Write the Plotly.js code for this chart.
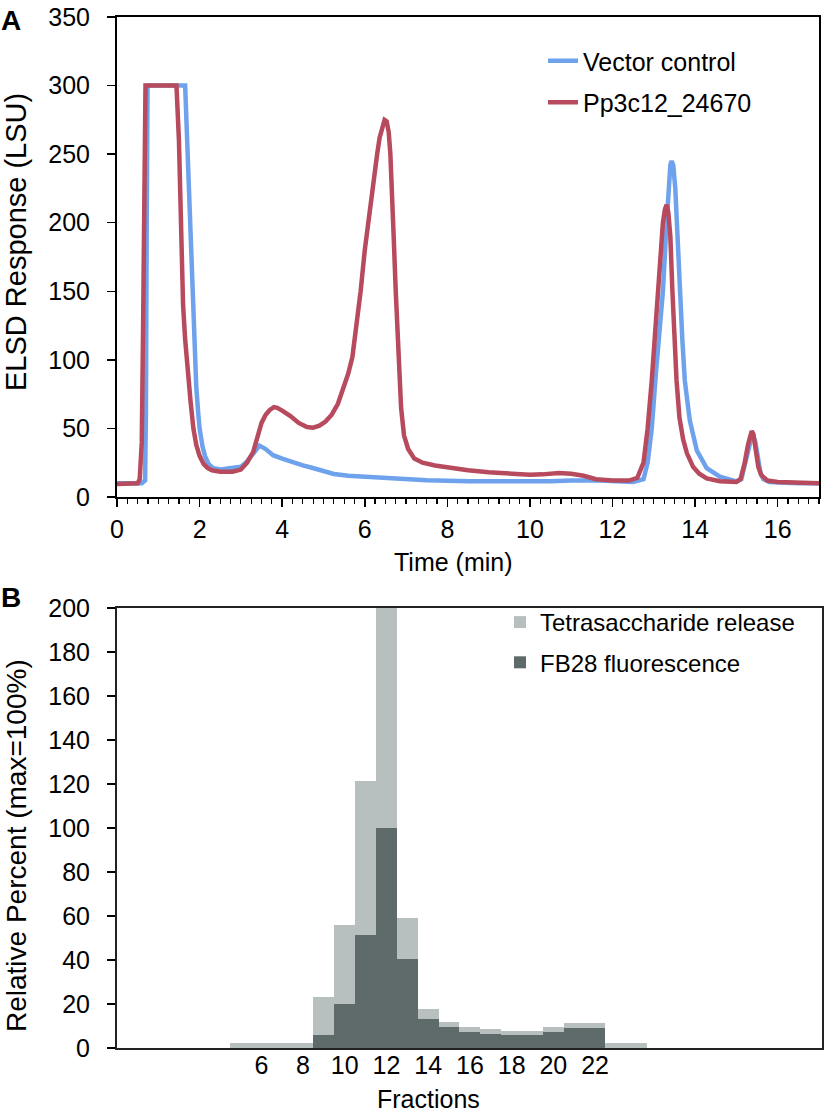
<!DOCTYPE html>
<html>
<head>
<meta charset="utf-8">
<script src="https://cdn.plot.ly/plotly-3.0.1.min.js"></script>
<style>
html,body{margin:0;padding:0;background:#fff;}
#chart{width:826px;height:1113px;}
</style>
</head>
<body>
<div id="chart"></div>
<script>
// Panel A: ELSD chromatograms (time in min, response in LSU)
const vectorTime = [0,0.6,0.68,0.7,0.72,0.74,1.65,1.7,1.76,1.82,1.87,1.92,1.97,2.0,2.07,2.13,2.22,2.33,2.5,2.75,3.0,3.15,3.3,3.45,3.6,3.78,4.0,4.2,4.5,4.7,5.0,5.25,5.6,6.05,6.5,6.85,7.5,8.5,9.5,10.5,11.0,11.7,12.5,12.75,12.85,12.95,13.05,13.15,13.22,13.3,13.36,13.4,13.43,13.47,13.52,13.57,13.63,13.69,13.75,13.87,14.04,14.28,14.6,15.0,15.12,15.22,15.32,15.37,15.41,15.46,15.52,15.58,15.65,15.8,16.5,17.0];
const vectorResp = [10,10,12,60,200,300,300,260,190,150,110,80,60,50,37,30,24,21,20,21,22,26,32,37.5,35,30.5,28,25.8,23,21.5,18.5,16.8,15.5,14.8,13.5,12.9,12.2,11.5,11.2,11.5,12,12,11,13,25,50,90,125,150,195,230,242,245,242,225,190,158,115,85,56,34,21,14.8,11.4,13,24,38,44,45,40,28,18,13,11,10,10];

const mutantTime = [0,0.3,0.5,0.55,0.6,0.63,0.66,0.69,1.0,1.44,1.5,1.55,1.6,1.65,1.7,1.78,1.85,1.92,2.0,2.1,2.2,2.3,2.5,2.8,3.0,3.15,3.3,3.4,3.5,3.6,3.7,3.8,3.88,4.0,4.2,4.4,4.6,4.75,4.9,5.05,5.2,5.35,5.5,5.6,5.7,5.8,5.9,6.0,6.1,6.2,6.3,6.36,6.42,6.48,6.53,6.58,6.62,6.66,6.7,6.75,6.8,6.88,6.95,7.05,7.2,7.4,7.7,8.0,8.5,9.0,9.5,10.0,10.3,10.7,11.0,11.3,11.6,12.0,12.4,12.6,12.75,12.85,12.95,13.05,13.15,13.22,13.27,13.31,13.35,13.4,13.45,13.5,13.55,13.62,13.71,13.8,13.95,14.1,14.28,14.6,15.0,15.1,15.2,15.28,15.33,15.37,15.41,15.47,15.53,15.6,15.75,16.0,17.0];
const mutantResp = [9.5,9.5,10,13,40,120,220,300,300,300,260,190,140,115,95,70,50,38,30,24,21,19.5,18.5,18.5,20,25,33,45,54,60,63.5,65.5,65,63,59,54,51,50.5,52,55,60,68,80,90,102,125,150,180,205,228,250,262,270,275,274,266,250,225,190,150,110,65,45,35,28,25,23,21.5,19.5,18,16.8,16.2,16.5,17.5,17,15.5,13,12,12,14,25,50,85,130,175,200,210,213,208,190,150,115,85,58,42,32,22,17,13.6,11.5,11,13,25,38,45,48,46,36,22,16,12,11,10];

// Panel B: fractions
const fractions = [5,6,7,8,9,10,11,12,13,14,15,16,17,18,19,20,21,22,23,24];
const tetrasaccharide = [2.1,2.1,2.1,2.1,23.3,56,121.5,200,59.3,17.7,12,9.4,8.5,7.9,7.9,9.4,11.2,11.2,2.1,2.1];
const fb28 = [0,0,0,0,6,20,51.4,100,40.5,13.2,9.7,7.4,6.4,5.9,5.9,7.4,8.9,8.9,0,0];
const fractionTicks = [6,8,10,12,14,16,18,20,22];

const FONT = 'Liberation Sans, Arial, Helvetica, sans-serif';
const BLUE = '#6FA2EC';
const RED = '#B74A5D';
const LIGHT = '#B8C0BF';
const DARK = '#5E6B6A';

const traces = [
  {x: vectorTime, y: vectorResp, type: 'scatter', mode: 'lines', name: 'Vector control',
   line: {color: BLUE, width: 4.5}, xaxis: 'x', yaxis: 'y', legend: 'legend', legendgroup: 'a1'},
  {x: mutantTime, y: mutantResp, type: 'scatter', mode: 'lines', name: 'Pp3c12_24670',
   line: {color: RED, width: 4.5}, xaxis: 'x', yaxis: 'y', legend: 'legend', legendgroup: 'a2'},
  {x: fractions, y: tetrasaccharide, type: 'bar', name: 'Tetrasaccharide release',
   marker: {color: LIGHT, line: {width: 0}}, width: 1, xaxis: 'x2', yaxis: 'y2', legend: 'legend2', legendgroup: 'b1'},
  {x: fractions, y: fb28, type: 'bar', name: 'FB28 fluorescence',
   marker: {color: DARK, line: {width: 0}}, width: 1, xaxis: 'x2', yaxis: 'y2', legend: 'legend2', legendgroup: 'b2'}
];

const W = 705, H = 1031, L = 117, T = 17;
function px(x){ return (x - L) / W; }
function py(y){ return 1 - (y - T) / H; }

const layout = {
  width: 826, height: 1113,
  margin: {l: L, r: 4, t: T, b: 65},
  paper_bgcolor: '#fff', plot_bgcolor: '#fff',
  font: {family: FONT, size: 25, color: '#000'},
  barmode: 'overlay', bargap: 0,
  showlegend: true,
  xaxis: {
    domain: [0, px(819)], anchor: 'y', range: [0, 17],
    tickmode: 'array', tickvals: [0,2,4,6,8,10,12,14,16],
    ticks: 'outside', ticklen: 8, tickwidth: 1.5, tickcolor: '#000',
    minor: {dtick: 0.25, ticks: 'outside', ticklen: 5, tickwidth: 1.2, tickcolor: '#000', showgrid: false},
    showline: true, linecolor: '#000', linewidth: 2, mirror: true,
    showgrid: false, zeroline: false, ticklabelstandoff: 1,
    tickfont: {size: 25, family: FONT}
  },
  yaxis: {
    domain: [py(497), 1], anchor: 'x', range: [0, 350],
    tickmode: 'array', tickvals: [0,50,100,150,200,250,300,350],
    ticks: 'outside', ticklen: 8, tickwidth: 1.5, tickcolor: '#000',
    showline: true, linecolor: '#000', linewidth: 2, mirror: true,
    showgrid: false, zeroline: false, ticklabelstandoff: 12,
    tickfont: {size: 25, family: FONT}
  },
  xaxis2: {
    domain: [0, 1], anchor: 'y2', range: [-0.92, 32.88],
    tickmode: 'array', tickvals: fractionTicks,
    ticks: '', showline: true, linecolor: '#222', linewidth: 2, mirror: true,
    showgrid: false, zeroline: false, ticklabelstandoff: -6,
    tickfont: {size: 25, family: FONT}
  },
  yaxis2: {
    domain: [0, py(608)], anchor: 'x2', range: [0, 200],
    tickmode: 'array', tickvals: [0,20,40,60,80,100,120,140,160,180,200],
    ticks: 'outside', ticklen: 8, tickwidth: 1.5, tickcolor: '#000',
    showline: true, linecolor: '#222', linewidth: 2, mirror: true,
    showgrid: false, zeroline: false, ticklabelstandoff: 12,
    tickfont: {size: 25, family: FONT}
  },
  legend: {
    x: px(543), y: py(38), xanchor: 'left', yanchor: 'top',
    bgcolor: 'rgba(0,0,0,0)', font: {size: 25, family: FONT},
    tracegroupgap: 6
  },
  legend2: {
    x: px(500), y: py(600), xanchor: 'left', yanchor: 'top',
    bgcolor: 'rgba(0,0,0,0)', font: {size: 24, family: FONT},
    tracegroupgap: 6, itemwidth: 30
  },
  annotations: [
    {text: '<b>A</b>', xref: 'paper', yref: 'paper', x: px(-1), y: py(3), xanchor: 'left', yanchor: 'top', showarrow: false, font: {size: 28, family: FONT}},
    {text: '<b>B</b>', xref: 'paper', yref: 'paper', x: px(-1), y: py(580), xanchor: 'left', yanchor: 'top', showarrow: false, font: {size: 28, family: FONT}},
    {text: 'ELSD Response (LSU)', xref: 'paper', yref: 'paper', x: px(16), y: py(242), xanchor: 'center', yanchor: 'middle', textangle: -90, showarrow: false, font: {size: 29, family: FONT}},
    {text: 'Relative Percent (max=100%)', xref: 'paper', yref: 'paper', x: px(16), y: py(846), xanchor: 'center', yanchor: 'middle', textangle: -90, showarrow: false, font: {size: 28, family: FONT}},
    {text: 'Time (min)', xref: 'paper', yref: 'paper', x: px(453), y: py(562), xanchor: 'center', yanchor: 'middle', showarrow: false, font: {size: 25, family: FONT}},
    {text: 'Fractions', xref: 'paper', yref: 'paper', x: px(428), y: py(1099), xanchor: 'center', yanchor: 'middle', showarrow: false, font: {size: 25, family: FONT}}
  ]
};

Plotly.newPlot('chart', traces, layout, {displayModeBar: false, staticPlot: true});
</script>
</body>
</html>
